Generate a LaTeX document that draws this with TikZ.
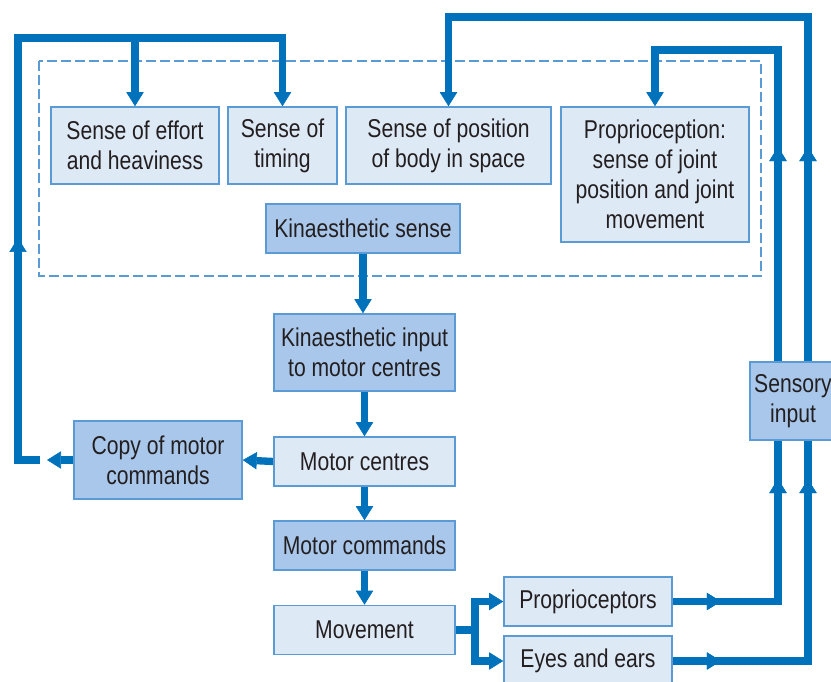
\documentclass[tikz,border=0pt]{standalone}
\usepackage{fontspec}
\setmainfont[FakeStretch=0.82]{Liberation Sans}
\usetikzlibrary{arrows.meta,backgrounds,decorations.markings}
\definecolor{flowblue}{HTML}{0072BC}
\definecolor{edgeblue}{HTML}{5B9BD5}
\definecolor{palefill}{HTML}{DEE9F6}
\definecolor{deepfill}{HTML}{A9C7EA}
\definecolor{inktext}{HTML}{231F20}

\begin{document}
\begin{tikzpicture}[x=0.03cm,y=-0.03cm,
  >={Triangle[width=0.52cm,length=0.42cm,line width=0.5pt]},
  box/.style={draw=edgeblue,line width=1.3pt,text=inktext,align=center,inner sep=2pt,
    font=\fontsize{22}{25.6}\selectfont},
  pale/.style={box,fill=palefill},
  deep/.style={box,fill=deepfill},
  flow/.style={draw=flowblue,line width=0.22cm,->},
  midtip/.style={postaction={decorate},
    decoration={markings,mark=at position #1 with {\arrow{>}}}},
  midtips/.style 2 args={postaction={decorate},
    decoration={markings,mark=at position #1 with {\arrow{>}},
      mark=at position #2 with {\arrow{>}}}}]
  \useasboundingbox (0,0) rectangle (831,682);

  % Kinaesthetic senses (top row)
  \foreach \nm/\x/\w/\lab in {effort/135/5.04/{Sense of effort\\and heaviness},
      timing/282.5/3.27/{Sense of\\timing},
      position/448.5/6.15/{Sense of position\\of body in space}} {
    \node[pale,minimum width=\w cm,minimum height=2.31cm] (\nm) at (\x,145.5) {\lab};
  }
  \node[pale,minimum width=5.64cm,minimum height=4.05cm] (propsense) at (655,174.5)
    {Proprioception:\\sense of joint\\position and joint\\movement};
  \node[deep,minimum width=5.82cm,minimum height=1.47cm] (kinsense) at (363,228.5) {Kinaesthetic sense};

  % Main column
  \foreach \nm/\st/\y/\h/\lab in {kininput/deep/352.5/2.31/{Kinaesthetic input\\to motor centres},
      motorc/pale/461.5/1.47/{Motor centres},
      motorcmd/deep/545.5/1.47/{Motor commands},
      move/pale/630/1.47/{Movement}} {
    \node[\st,minimum width=5.43cm,minimum height=\h cm] (\nm) at (364.5,\y) {\lab};
  }
  \node[deep,minimum width=5.04cm,minimum height=2.34cm] (copy) at (158,460) {Copy of motor\\commands};

  % Receptors and sensory input
  \node[pale,minimum width=5.04cm,minimum height=1.47cm] (receptors) at (588,601.5) {Proprioceptors};
  \node[pale,minimum width=5.04cm,minimum height=1.5cm] (eyes) at (588,661) {Eyes and ears};
  \node[deep,minimum width=2.58cm,minimum height=2.34cm] (sensory) at (793,401) {Sensory\\input};

  \coordinate (cstub) at (47,460);
  \coordinate (cgap) at (40,460);
  \coordinate (ltop) at (18,38);
  \coordinate (fork) at (475,630);
  \coordinate (ptop) at (778,50);
  \coordinate (etop) at (808,17);

  \begin{scope}[on background layer]
    % dashed frame round the kinaesthetic sense
    \draw[edgeblue,line width=1.3pt,dash pattern=on 8.5pt off 3.5pt] (39,61) rectangle (761,276);

    % down the main column
    \foreach \a/\b in {kinsense/kininput, kininput/motorc, motorc/motorcmd, motorcmd/move} {
      \draw[flow] (\a.south) -- (\a.south |- \b.north);
    }
    \draw[flow] (motorc.west) -- (copy.east);

    % copy of motor commands back to the top
    \draw[flow] (copy.west) -- (cstub);
    \draw[flow,midtip=7.32cm] (cgap) -| (ltop) -| (timing.north);
    \draw[flow] (effort.north |- ltop) -- (effort.north);

    % movement to the receptors
    \draw[flow,-] (move.east) -- (fork);
    \draw[flow] (fork) |- (receptors.west);
    \draw[flow] (fork) |- (eyes.west);

    % proprioceptors loop
    \draw[flow,midtips={1.44cm}{6.83cm},midtip=16.79cm] (receptors.east) -| (ptop) -| (propsense.north);

    % eyes and ears loop
    \draw[flow,midtips={1.44cm}{9.51cm},midtip=19.47cm] (eyes.east) -| (etop) -| (position.north);
  \end{scope}
\end{tikzpicture}
\end{document}
